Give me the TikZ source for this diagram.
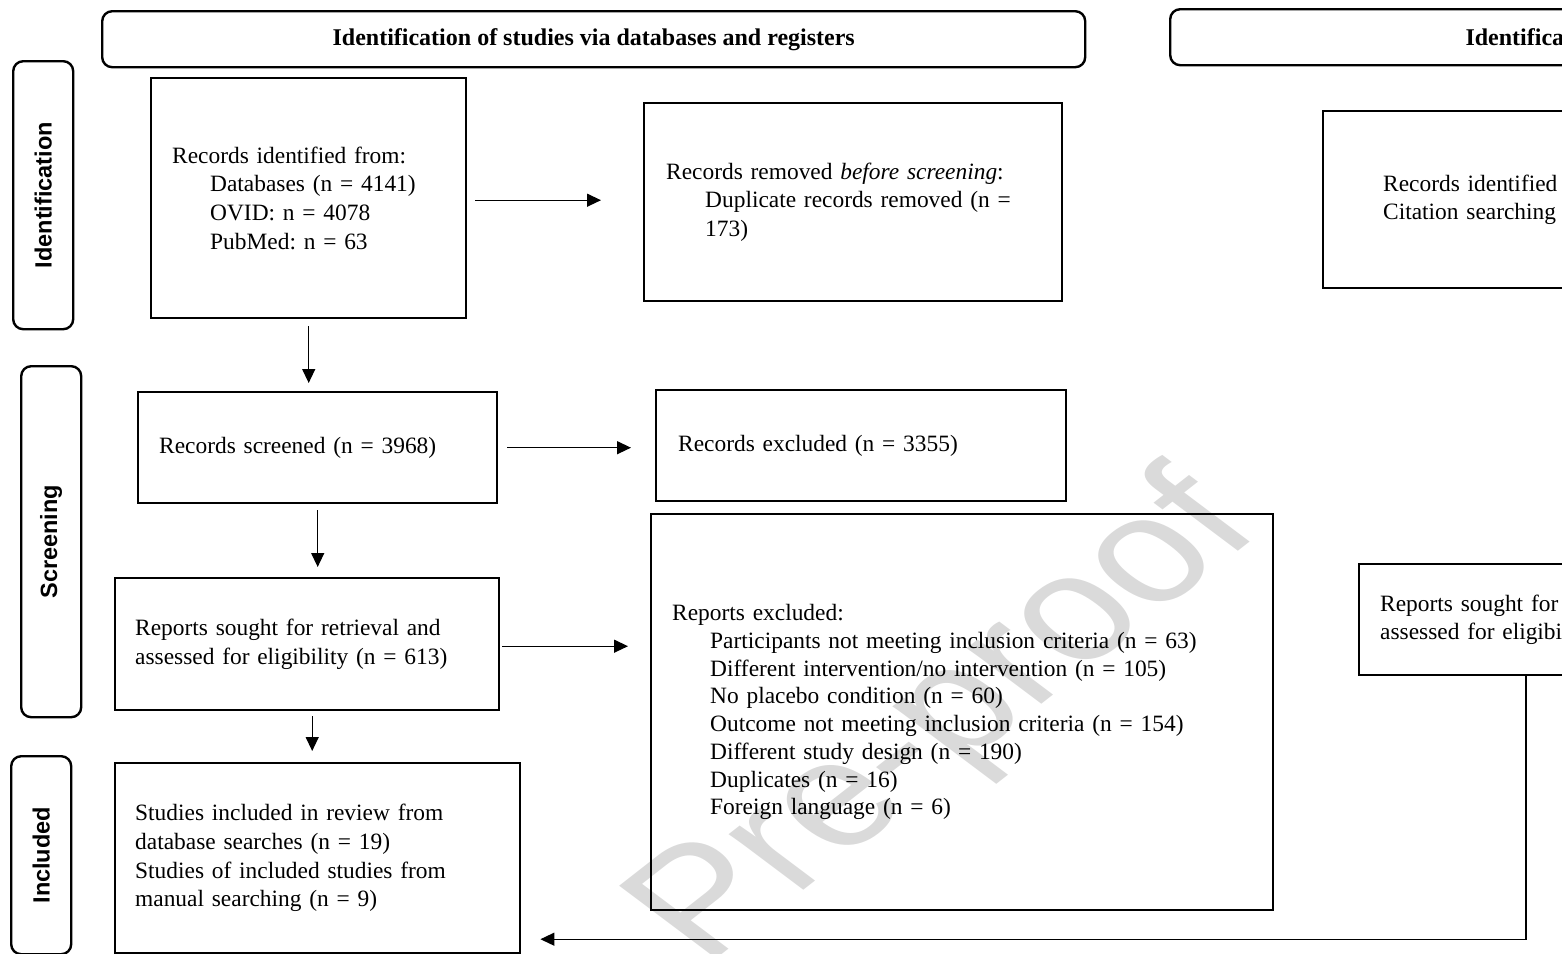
\documentclass[tikz,border=0pt]{standalone}
\usepackage{fontspec}
\setmainfont{Liberation Serif}
\newfontfamily\sidefont{Liberation Sans}
\usetikzlibrary{arrows.meta,calc}
\definecolor{wmgray}{RGB}{218,218,218}
\begin{document}
\frenchspacing
\begin{tikzpicture}[x=1pt,y=-1pt,
  every node/.style={font=\fontsize{23.4}{28.7}\selectfont},
  pbox/.style={draw, line width=2.4pt, anchor=north west, inner ysep=0pt, align=left},
  phase/.style={draw, line width=2.4pt, rounded corners=10pt, anchor=north west, inner sep=0pt},
  sidelabel/.style={font=\sidefont\bfseries\fontsize{23.5}{26}\selectfont, rotate=90},
  arr/.style={line width=1.3pt, -{Triangle[length=14pt,width=13pt]}},
  wmark/.style={font=\sidefont\fontsize{170}{170}\selectfont, text=wmgray, transform shape, inner sep=0pt},
]
\useasboundingbox (0,0) rectangle (1562,953);
\clip (0,0) rectangle (1562,953);

% watermark
\begin{scope}[shift={(948,722)}, rotate=38, xslant=-0.27]
  \node[wmark] (wm) at (0,0) {Pre-proof};
\end{scope}

% phase headers
\node[phase, minimum width=983, minimum height=56, font=\bfseries\fontsize{24}{28.7}\selectfont] (hdrA) at (101,10) {Identification of studies via databases and registers};
\node[phase, minimum width=1022, minimum height=56, font=\bfseries\fontsize{24}{28.7}\selectfont] (hdrB) at (1169,8) {Identification of studies via other methods};

% side bars
\node[phase, minimum width=60, minimum height=268] (sideI) at (12,60) {};
\node[sidelabel] (sideIl) at (sideI.center) {Identification};
\node[phase, minimum width=60, minimum height=351] (sideS) at (20,365) {};
\node[sidelabel] (sideSl) at (sideS.center) {Screening};
\node[phase, minimum width=60, minimum height=198] (sideC) at (10,755) {};
\node[sidelabel] (sideCl) at (sideC.center) {Included};

% boxes
\node[pbox, minimum width=315, minimum height=240, inner xsep=21pt, text width=273pt] (A) at (150,77)
  {Records identified from:\\
   \hspace*{38pt}Databases (n = 4141)\\
   \hspace*{38pt}OVID: n = 4078\\
   \hspace*{38pt}PubMed: n = 63};
\node[pbox, minimum width=418, minimum height=198, inner xsep=22pt, text width=374pt] (B) at (643,102)
  {Records removed \emph{before screening}:\\
   \hspace*{39pt}Duplicate records removed (n =\\
   \hspace*{39pt}173)};
\node[pbox, minimum width=400, minimum height=177, inner xsep=60pt, text width=280pt] (C) at (1322,110)
  {Records identified\\Citation searching};
\node[pbox, minimum width=359, minimum height=111, inner xsep=21pt, text width=317pt] (I) at (137,391)
  {Records screened (n = 3968)};
\node[pbox, minimum width=410, minimum height=111, inner xsep=22pt, text width=366pt] (L) at (655,389)
  {Records excluded (n = 3355)};
\node[pbox, minimum width=384, minimum height=132, inner xsep=20pt, text width=344pt] (J) at (114,577)
  {Reports sought for retrieval and\\assessed for eligibility (n = 613)};
\node[pbox, minimum width=622, minimum height=396, inner xsep=21pt, text width=580pt, font=\fontsize{23.4}{27.7}\selectfont] (M) at (650,513)
  {Reports excluded:\\
   \hspace*{38pt}Participants not meeting inclusion criteria (n = 63)\\
   \hspace*{38pt}Different intervention/no intervention (n = 105)\\
   \hspace*{38pt}No placebo condition (n = 60)\\
   \hspace*{38pt}Outcome not meeting inclusion criteria (n = 154)\\
   \hspace*{38pt}Different study design (n = 190)\\
   \hspace*{38pt}Duplicates (n = 16)\\
   \hspace*{38pt}Foreign language (n = 6)};
\node[pbox, minimum width=400, minimum height=111, inner xsep=21pt, text width=358pt] (N) at (1358,563)
  {Reports sought for retrieval\\assessed for eligibility};
\node[pbox, minimum width=405, minimum height=190, inner xsep=20pt, text width=365pt] (K) at (114,762)
  {Studies included in review from\\database searches (n = 19)\\Studies of included studies from\\manual searching (n = 9)};

% connectors
\draw[arr] ($(A.east)+(8,2)$) -- ($(A.east -| B.west)+(-42,2)$);
\draw[arr] ($(A.south)+(0,7)$) -- ($(A.south |- I.north)+(0,-8)$);
\draw[arr] ($(I.south)+(0,6)$) -- ($(I.south |- J.north)+(0,-10)$);
\draw[arr] ($(J.south)+(5,5)$) -- ($(J.south |- K.north)+(5,-11)$);
\draw[arr] ($(I.east)+(9,0)$) -- ($(I.east -| L.west)+(-24,0)$);
\draw[arr] ($(J.east)+(2,2)$) -- ($(J.east -| M.west)+(-22,2)$);
\draw[arr] ($(N.south west)+(168,0)$) |- ($(K.east)+(19,81)$);
\end{tikzpicture}
\end{document}
